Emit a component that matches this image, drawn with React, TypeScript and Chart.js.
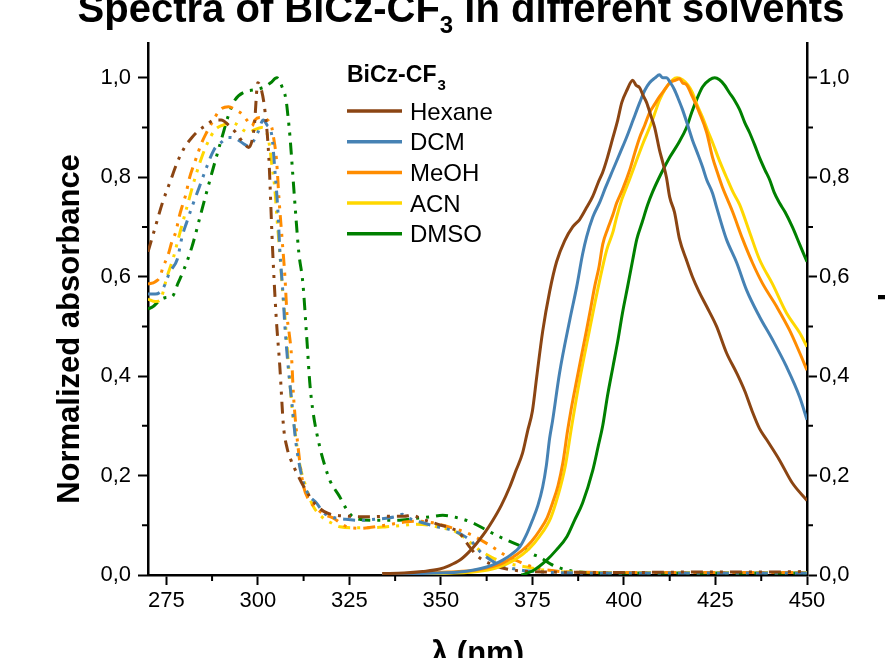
import React, { useEffect, useRef } from 'react';
import { Chart, registerables } from 'chart.js';
Chart.register(...registerables);

const FONT = '"Liberation Sans", Arial, sans-serif';

const X_TICKS = [275, 300, 325, 350, 375, 400, 425, 450];
const X_MINOR = [287.5, 312.5, 337.5, 362.5, 387.5, 412.5, 437.5];
const Y_TICKS = [0, 0.2, 0.4, 0.6, 0.8, 1.0];
const Y_MINOR = [0.1, 0.3, 0.5, 0.7, 0.9];

const SOLVENTS = ['Hexane', 'DCM', 'MeOH', 'ACN', 'DMSO'];
const COLORS = ['#8B4513', '#4682B4', '#FF8C00', '#FFD700', '#008000'];

const TITLE_MAIN = 'Spectra of BiCz-CF';
const TITLE_SUB = '3';
const TITLE_REST = ' in different solvents';
const LEGEND_TITLE = 'BiCz-CF';
const LEGEND_SUB = '3';
const X_TITLE = 'λ (nm)';
const Y_TITLE = 'Normalized absorbance';
const Y2_TITLE = 'Normalized photoluminescence';

// Absorption spectra (dash-dot-dot)
const ABS_HEXANE = [[270,0.65],[272,0.70],[274,0.75],[276,0.79],[278,0.83],[280,0.86],[282,0.88],[284,0.895],[286,0.905],[288,0.915],[290,0.915],[292,0.905],[294,0.89],[296,0.87],[297.5,0.86],[299,0.90],[300,0.99],[301,0.975],[302,0.93],[303,0.84],[304,0.66],[305,0.52],[306,0.42],[307,0.30],[308,0.255],[309,0.232],[310,0.215],[312,0.185],[314,0.16],[316,0.14],[318,0.128],[320,0.122],[325,0.118],[330,0.117],[335,0.118],[340,0.118],[342,0.12],[345,0.112],[348,0.105],[350,0.1],[352,0.096],[355,0.085],[357,0.065],[358,0.055],[360,0.038],[362,0.028],[365,0.018],[368,0.012],[372,0.008],[380,0.006],[400,0.005],[420,0.006],[440,0.006],[450,0.007]];
const ABS_DCM = [[270,0.565],[272,0.565],[274,0.575],[276,0.61],[278,0.635],[279.3,0.68],[280.6,0.71],[282,0.74],[284,0.78],[286,0.82],[288,0.855],[290,0.87],[292,0.88],[294,0.878],[296,0.868],[297.5,0.862],[299,0.875],[300,0.89],[301.5,0.915],[302.5,0.905],[303.8,0.885],[304.7,0.81],[305.5,0.73],[306,0.654],[306.8,0.573],[307.4,0.50],[308.2,0.426],[309.3,0.346],[310.4,0.266],[312.3,0.19],[314,0.16],[316,0.145],[318,0.125],[320,0.117],[324,0.112],[328,0.11],[332,0.112],[336,0.115],[338,0.118],[339.5,0.122],[341,0.115],[345,0.105],[349,0.097],[353,0.09],[356,0.08],[358,0.07],[361,0.045],[365,0.024],[369,0.014],[374,0.008],[380,0.005],[400,0.004],[420,0.004],[450,0.004]];
const ABS_MEOH = [[270,0.585],[272,0.59],[273.3,0.60],[274,0.617],[275.5,0.644],[276.6,0.672],[277.6,0.69],[278.5,0.72],[279.6,0.748],[280.4,0.767],[281.2,0.795],[283,0.835],[284.7,0.87],[286,0.89],[287.5,0.91],[289.6,0.935],[292,0.942],[294,0.935],[296,0.925],[297,0.915],[298.4,0.903],[299.2,0.915],[300.5,0.92],[302,0.918],[303.8,0.90],[304.3,0.88],[305.1,0.835],[305.8,0.755],[306.6,0.678],[307.4,0.60],[308,0.52],[308.5,0.49],[309.2,0.44],[309.7,0.366],[310.6,0.285],[312.3,0.185],[314,0.15],[315.6,0.137],[318,0.122],[320.5,0.115],[324.3,0.097],[328,0.094],[331,0.096],[334.7,0.10],[340.7,0.107],[344,0.108],[347.8,0.105],[352,0.097],[355.2,0.09],[359,0.078],[363.3,0.06],[368,0.038],[372.3,0.024],[376,0.014],[379,0.01],[385,0.006],[400,0.005],[450,0.005]];
const ABS_ACN = [[270,0.555],[272,0.55],[273.3,0.553],[275.2,0.60],[277,0.64],[278.2,0.674],[281,0.75],[282.5,0.79],[284.2,0.83],[286,0.865],[288.3,0.895],[290.5,0.905],[292.9,0.91],[294.5,0.905],[296,0.895],[297.5,0.89],[299,0.895],[301,0.90],[302.8,0.88],[304,0.815],[304.6,0.78],[305.2,0.72],[306,0.648],[306.8,0.567],[307.4,0.52],[308.3,0.43],[309.3,0.34],[310.5,0.27],[311.5,0.22],[312.8,0.185],[315,0.14],[317.5,0.117],[320,0.105],[322.4,0.097],[327,0.095],[331,0.095],[335.2,0.097],[340,0.10],[343,0.102],[347,0.10],[350,0.095],[353.2,0.09],[356.5,0.075],[359.8,0.054],[364,0.035],[368,0.024],[373.4,0.016],[378,0.01],[385,0.006],[400,0.005],[450,0.005]];
const ABS_DMSO = [[270,0.535],[271.4,0.54],[273.3,0.553],[275,0.558],[276.6,0.56],[278.2,0.587],[279.8,0.614],[282,0.66],[284.7,0.734],[287.5,0.81],[290.2,0.88],[292,0.925],[293.7,0.955],[296.5,0.972],[299.2,0.976],[301.9,0.982],[303.5,0.99],[305.2,1.0],[306.6,0.982],[307.7,0.956],[308.2,0.925],[308.8,0.88],[309.6,0.80],[310.4,0.72],[311.2,0.648],[312.3,0.587],[313.4,0.473],[314.2,0.386],[315,0.332],[316.9,0.258],[318.3,0.22],[319.7,0.19],[322.4,0.157],[324,0.135],[326,0.117],[331.4,0.11],[338,0.11],[343,0.114],[347,0.117],[350.5,0.12],[354,0.116],[358.7,0.105],[362,0.092],[366,0.077],[369,0.067],[372.3,0.056],[375,0.042],[377,0.036],[380,0.022],[384.4,0.01],[390,0.005],[400,0.004],[450,0.004]];

// Emission spectra (solid)
const EM_HEXANE = [[334,0.003],[340,0.004],[345,0.007],[349.7,0.012],[352,0.018],[355.2,0.03],[357.5,0.045],[359.8,0.064],[362,0.085],[364.2,0.11],[366.5,0.14],[368.8,0.177],[370.5,0.21],[372.3,0.245],[373.7,0.29],[375,0.33],[376.2,0.40],[377.8,0.49],[379.7,0.57],[381.6,0.63],[383.8,0.672],[386,0.70],[387.9,0.715],[389.5,0.735],[391.5,0.762],[393,0.79],[394.2,0.81],[395.5,0.84],[397,0.88],[398.3,0.915],[399.4,0.95],[400.8,0.975],[402.4,0.995],[403.3,0.985],[404.3,0.98],[405.2,0.965],[406.2,0.95],[407.3,0.925],[408.4,0.90],[409.7,0.855],[410.6,0.83],[411.6,0.80],[412.5,0.76],[413.8,0.73],[415.2,0.675],[417,0.635],[418.7,0.60],[420.5,0.57],[422.6,0.54],[425.3,0.50],[428,0.447],[430.8,0.406],[433,0.37],[435,0.33],[437,0.295],[439,0.272],[442.5,0.231],[446,0.185],[450,0.15]];
const EM_DCM = [[334,0.002],[345,0.003],[355,0.006],[359,0.01],[362.5,0.016],[365,0.023],[366.9,0.03],[369,0.04],[371.5,0.056],[373.3,0.08],[375,0.11],[376.5,0.14],[377.8,0.177],[378.8,0.22],[379.7,0.275],[380.5,0.31],[382.4,0.406],[385.2,0.513],[387.1,0.58],[388.7,0.645],[389.8,0.68],[391.5,0.72],[393.4,0.75],[395,0.78],[397,0.815],[399,0.85],[400.7,0.88],[402.5,0.915],[404.3,0.95],[405.7,0.975],[407,0.99],[408.5,1.0],[409.7,1.006],[410.6,1.0],[411.6,1.0],[412.7,0.99],[413.8,0.976],[415,0.955],[416,0.936],[417.4,0.905],[418.7,0.875],[420,0.85],[421.5,0.82],[422.6,0.795],[424.2,0.768],[425.3,0.74],[426.9,0.70],[428,0.675],[430.8,0.628],[433.5,0.573],[437,0.52],[440.6,0.473],[444.4,0.419],[448,0.358],[450,0.312]];
const EM_MEOH = [[334,0.003],[346,0.004],[352,0.006],[359.8,0.01],[363,0.015],[366.9,0.024],[369.5,0.035],[372.3,0.05],[374.8,0.068],[377,0.09],[379,0.115],[380.5,0.145],[382,0.18],[383.3,0.225],[384.6,0.29],[385.5,0.33],[387.1,0.392],[388.5,0.445],[389.8,0.493],[391,0.54],[392,0.58],[393.2,0.62],[394.2,0.665],[395.5,0.695],[397,0.725],[398,0.748],[399.6,0.775],[401.6,0.815],[403,0.85],[404.3,0.88],[405.7,0.905],[407,0.93],[408.5,0.948],[409.7,0.962],[411,0.975],[412.5,0.99],[414,0.995],[415.2,0.998],[416,0.99],[417.1,0.986],[418.7,0.962],[420.6,0.93],[422.6,0.89],[424.2,0.84],[425.5,0.81],[426.9,0.78],[428.3,0.755],[429.7,0.73],[432.4,0.676],[435.1,0.628],[437.8,0.587],[441.7,0.54],[445.2,0.493],[448,0.447],[450,0.412]];
const EM_ACN = [[334,0.002],[350,0.003],[360,0.007],[365,0.014],[370,0.03],[374,0.052],[377,0.078],[380,0.115],[382,0.16],[384,0.22],[385.7,0.298],[387.9,0.392],[390.6,0.493],[392.8,0.573],[395.3,0.654],[397,0.69],[398,0.72],[399.4,0.755],[401.5,0.795],[403.5,0.835],[405.3,0.87],[407,0.90],[408.5,0.93],[409.7,0.955],[411.5,0.98],[413.3,0.996],[414.5,1.0],[416,0.996],[417.5,0.985],[418.7,0.97],[420,0.945],[421.5,0.92],[422.8,0.895],[424.2,0.87],[426,0.835],[428,0.80],[429.8,0.77],[431.6,0.745],[434.3,0.69],[437,0.635],[440.6,0.585],[444.4,0.527],[448,0.487],[450,0.459]];
const EM_DMSO = [[372,0.0],[375,0.008],[378.9,0.03],[381.5,0.05],[384.4,0.077],[386.5,0.11],[388.7,0.145],[391.5,0.211],[393,0.26],[394.2,0.30],[395.5,0.36],[397,0.419],[398.3,0.47],[399.6,0.527],[401,0.58],[402.4,0.634],[403.5,0.675],[405,0.71],[406.5,0.745],[407.8,0.77],[410,0.805],[412.5,0.84],[415,0.87],[417.1,0.90],[418.5,0.93],[419.8,0.955],[421.5,0.982],[423.4,0.996],[424.8,1.0],[426.1,0.996],[427.5,0.985],[428.8,0.97],[430.2,0.955],[431.6,0.936],[433,0.91],[434.3,0.89],[435.7,0.865],[437,0.84],[438.5,0.815],[439.8,0.795],[441,0.77],[442.5,0.748],[444,0.73],[446,0.70],[448,0.665],[450,0.63]];

const ABS_SERIES = [ABS_HEXANE, ABS_DCM, ABS_MEOH, ABS_ACN, ABS_DMSO];
const EM_SERIES = [EM_HEXANE, EM_DCM, EM_MEOH, EM_ACN, EM_DMSO];

const fmt = (v: number) => v.toFixed(1).replace('.', ',');

const decorPlugin = {
  id: 'decor',
  afterDraw(chart: any) {
    const ctx = chart.ctx as CanvasRenderingContext2D;
    const a = chart.chartArea;
    const xs = chart.scales.x;
    const ys = chart.scales.y;
    ctx.save();
    // minor ticks
    ctx.strokeStyle = '#000';
    ctx.lineWidth = 2;
    ctx.beginPath();
    X_MINOR.forEach((v) => {
      const px = xs.getPixelForValue(v);
      ctx.moveTo(px, a.bottom);
      ctx.lineTo(px, a.bottom + 6);
    });
    Y_MINOR.forEach((v) => {
      const py = ys.getPixelForValue(v);
      ctx.moveTo(a.left - 6, py);
      ctx.lineTo(a.left, py);
      ctx.moveTo(a.right, py);
      ctx.lineTo(a.right + 6, py);
    });
    ctx.stroke();

    ctx.fillStyle = '#000';
    // main title with subscript
    ctx.textBaseline = 'alphabetic';
    ctx.textAlign = 'left';
    const big = `bold 40px ${FONT}`;
    const small = `bold 24px ${FONT}`;
    ctx.font = big;
    const w1 = ctx.measureText(TITLE_MAIN).width;
    const w3 = ctx.measureText(TITLE_REST).width;
    ctx.font = small;
    const w2 = ctx.measureText(TITLE_SUB).width;
    const cx = 461;
    let tx = cx - (w1 + w2 + w3) / 2;
    const tb = 22;
    ctx.font = big;
    ctx.fillText(TITLE_MAIN, tx, tb);
    tx += w1;
    ctx.font = small;
    ctx.fillText(TITLE_SUB, tx, tb + 11);
    tx += w2;
    ctx.font = big;
    ctx.fillText(TITLE_REST, tx, tb);

    // x title
    ctx.font = `bold 31px ${FONT}`;
    ctx.textAlign = 'center';
    ctx.fillText(X_TITLE, (a.left + a.right) / 2, 663);

    // left y title
    ctx.save();
    ctx.translate(79, 329);
    ctx.rotate(-Math.PI / 2);
    ctx.textAlign = 'center';
    ctx.fillText(Y_TITLE, 0, 0);
    ctx.restore();

    // right y title (mostly cut off by the page edge)
    ctx.save();
    ctx.translate(885, 117);
    ctx.rotate(Math.PI / 2);
    ctx.textAlign = 'left';
    ctx.fillText(Y2_TITLE, 0, 0);
    ctx.restore();

    // legend
    ctx.textAlign = 'left';
    ctx.font = `bold 23px ${FONT}`;
    ctx.fillText(LEGEND_TITLE, 347, 82);
    const lw = ctx.measureText(LEGEND_TITLE).width;
    ctx.font = `bold 15px ${FONT}`;
    ctx.fillText(LEGEND_SUB, 347 + lw + 1, 90);
    ctx.font = `24px ${FONT}`;
    SOLVENTS.forEach((name, i) => {
      const y = 111 + i * 30.7;
      ctx.strokeStyle = COLORS[i];
      ctx.lineWidth = 3.5;
      ctx.beginPath();
      ctx.moveTo(347, y);
      ctx.lineTo(402, y);
      ctx.stroke();
      ctx.fillStyle = '#000';
      ctx.fillText(name, 410, y + 8.5);
    });
    ctx.restore();
  },
};

export default function App() {
  const ref = useRef<HTMLCanvasElement | null>(null);
  useEffect(() => {
    if (!ref.current) return;
    const datasets: any[] = [];
    EM_SERIES.forEach((s, i) => {
      datasets.push({
        label: SOLVENTS[i] + ' PL',
        data: s.map(([x, y]) => ({ x, y })),
        borderColor: COLORS[i],
        borderWidth: 3,
        pointRadius: 0,
        cubicInterpolationMode: 'monotone',
        fill: false,
      });
    });
    ABS_SERIES.forEach((s, i) => {
      datasets.push({
        label: SOLVENTS[i] + ' Abs',
        data: s.map(([x, y]) => ({ x, y })),
        borderColor: COLORS[i],
        borderWidth: 3,
        borderDash: [12, 7, 3, 7, 3, 7],
        pointRadius: 0,
        cubicInterpolationMode: 'monotone',
        fill: false,
      });
    });
    const tickFont = { family: FONT, size: 22 };
    const chart = new Chart(ref.current, {
      type: 'line',
      data: { datasets },
      plugins: [decorPlugin],
      options: {
        animation: false,
        responsive: false,
        devicePixelRatio: 1,
        layout: { padding: { top: 43, left: 0, right: 0, bottom: 0 } },
        plugins: { legend: { display: false }, tooltip: { enabled: false }, title: { display: false } },
        scales: {
          x: {
            type: 'linear',
            min: 270,
            max: 450,
            afterBuildTicks: (s: any) => { s.ticks = X_TICKS.map((v) => ({ value: v })); },
            afterFit: (s: any) => { s.height = 83; },
            ticks: { color: '#000', font: tickFont, padding: 3, maxRotation: 0, autoSkip: false, callback: (v: any) => String(v) },
            grid: { display: true, drawOnChartArea: false, drawTicks: true, tickLength: 10, tickColor: '#000', tickWidth: 2 },
            border: { display: true, color: '#000', width: 2.5 },
          },
          y: {
            type: 'linear',
            position: 'left',
            min: 0,
            max: 1.07,
            afterBuildTicks: (s: any) => { s.ticks = Y_TICKS.map((v) => ({ value: v })); },
            afterFit: (s: any) => { s.width = 148; },
            ticks: { color: '#000', font: tickFont, padding: 7, autoSkip: false, callback: (v: any) => fmt(Number(v)) },
            grid: { display: true, drawOnChartArea: false, drawTicks: true, tickLength: 10, tickColor: '#000', tickWidth: 2 },
            border: { display: true, color: '#000', width: 2.5 },
          },
          y2: {
            type: 'linear',
            position: 'right',
            min: 0,
            max: 1.07,
            afterBuildTicks: (s: any) => { s.ticks = Y_TICKS.map((v) => ({ value: v })); },
            afterFit: (s: any) => { s.width = 78; },
            ticks: { color: '#000', font: tickFont, padding: 2, autoSkip: false, callback: (v: any) => fmt(Number(v)) },
            grid: { display: true, drawOnChartArea: false, drawTicks: true, tickLength: 10, tickColor: '#000', tickWidth: 2 },
            border: { display: true, color: '#000', width: 2.5 },
          },
        },
      } as any,
    });
    return () => chart.destroy();
  }, []);
  return (
    <div style={{ position: 'absolute', left: 0, top: 0, width: 885, height: 658, overflow: 'hidden', background: '#fff' }}>
      <canvas ref={ref} width={885} height={658} style={{ width: 885, height: 658, display: 'block' }} />
    </div>
  );
}
